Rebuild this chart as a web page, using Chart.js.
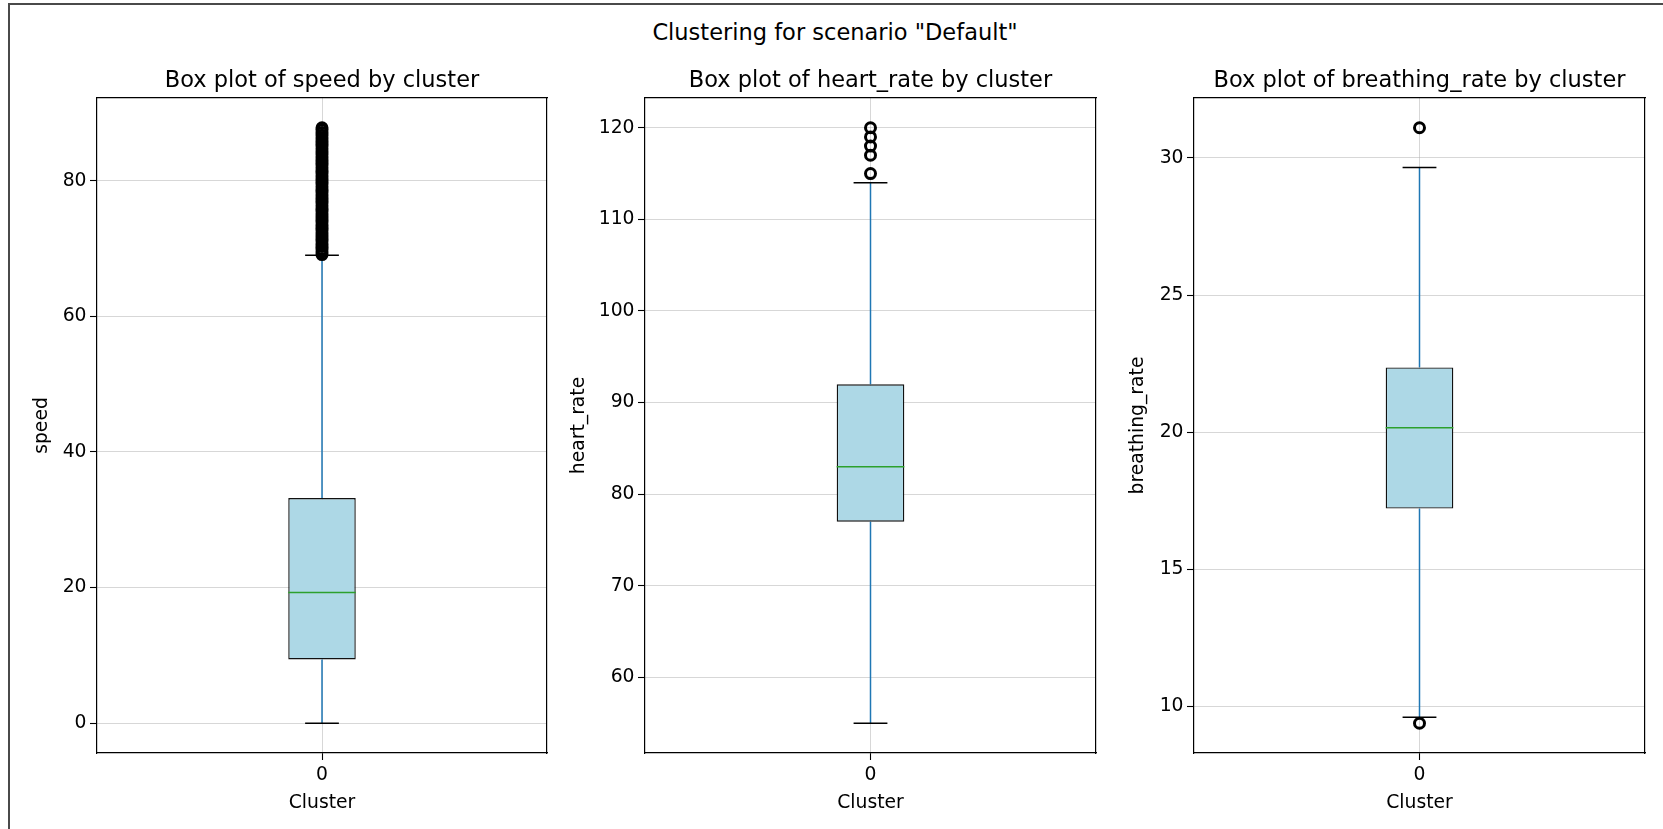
<!DOCTYPE html>
<html>
<head>
<meta charset="utf-8">
<title>Clustering for scenario "Default"</title>
<script src="https://cdn.jsdelivr.net/npm/chart.js@4.4.1/dist/chart.umd.min.js"></script>
<style>
  html, body { margin: 0; padding: 0; background: #fff; overflow: hidden; }
  #fig { position: relative; width: 1663px; height: 829px; overflow: hidden; }
  #frame { position: absolute; left: 8px; top: 3px; width: 1700px; height: 900px; border: 2px solid #4a4a4a; }
  #fig canvas { position: absolute; left: 0; top: 0; }
  #suptitle { position: absolute; left: 0; top: 19px; width: 1670px; text-align: center;
              font-family: 'DejaVu Sans', sans-serif; font-size: 22.5px; line-height: 26px; color: #000; }
</style>
</head>
<body>
<div id="fig">
  <div id="frame"></div>
  <div id="suptitle">Clustering for scenario "Default"</div>
  <canvas id="chart-speed" width="1663" height="829"></canvas>
  <canvas id="chart-heart" width="1663" height="829"></canvas>
  <canvas id="chart-breath" width="1663" height="829"></canvas>
</div>
<script>
const clusters = ['0'];

// [lower whisker, Q1, median, Q3, upper whisker]
const speedBox = [0, 9.4, 19.26, 33.2, 69.0];
const heartBox = [55, 77, 83, 92, 114];
const breathBox = [9.6, 17.21, 20.16, 22.36, 29.65];

// fliers (speed has a dense run of them above the whisker)
const speedOutliers = [
	69.1, 69.5, 69.9, 70.3, 70.7, 71.1, 71.5, 71.9, 72.3, 72.7, 73.1, 73.5,
	73.9, 74.3, 74.7, 75.1, 75.5, 75.9, 76.3, 76.7, 77.1, 77.5, 77.9, 78.3,
	78.7, 79.1, 79.5, 79.9, 80.3, 80.7, 81.1, 81.5, 81.9, 82.3, 82.7, 83.1,
	83.5, 83.9, 84.3, 84.7, 85.1, 85.5, 85.9, 86.3, 86.7, 87.1, 87.5, 87.8
];
const heartOutliers = [115, 117, 118, 119, 120];
const breathOutliers = [9.38, 31.1];

const speedTicks = [0, 20, 40, 60, 80];
const heartTicks = [60, 70, 80, 90, 100, 110, 120];
const breathTicks = [10, 15, 20, 25, 30];

Chart.defaults.font.family = "'DejaVu Sans', sans-serif";
Chart.defaults.color = '#000';

const BOX_W = 0.15;
const W = 1663, H = 829;
const PLOT_TOP = 98, PLOT_BOTTOM = 753;
const LABEL_SIZE = 18.75, TITLE_SIZE = 22.5;
const X_AXIS_H = 803 - PLOT_BOTTOM + LABEL_SIZE * 0.6;
const TOP_AXIS_H = PLOT_TOP - 81.5 + TITLE_SIZE * 0.6;
const TICK_LEN = 7;

const panels = [
	{ canvas: 'chart-speed', name: 'speed', box: speedBox, out: speedOutliers, ticks: speedTicks, left: 97, right: 547, labelX: 42.4 },
	{ canvas: 'chart-heart', name: 'heart_rate', box: heartBox, out: heartOutliers, ticks: heartTicks, left: 645, right: 1096, labelX: 579 },
	{ canvas: 'chart-breath', name: 'breathing_rate', box: breathBox, out: breathOutliers, ticks: breathTicks, left: 1194, right: 1645, labelX: 1138 },
];

function makeChart(p) {
	const [lo, q1, med, q3, hi] = p.box;
	const all = p.box.concat(p.out);
	const dmin = Math.min(...all), dmax = Math.max(...all);
	const margin = (dmax - dmin) * 0.05;
	const padLeft = p.labelX - LABEL_SIZE * 0.6;

	const line = (pts, color, order) => ({
		type: 'line',
		data: pts,
		borderColor: color,
		borderWidth: 1.5,
		pointRadius: 0,
		pointHoverRadius: 0,
		fill: false,
		order: order
	});

	const datasets = [
		{
			type: 'bar',
			data: [{ x: 0, y: [q1, q3] }],
			backgroundColor: '#add8e6',
			borderColor: '#111',
			borderWidth: 1.4,
			borderSkipped: false,
			barPercentage: BOX_W,
			categoryPercentage: 1,
			order: 5
		},
		line([{ x: 0, y: lo }, { x: 0, y: q1 }], '#1f77b4', 4),
		line([{ x: 0, y: q3 }, { x: 0, y: hi }], '#1f77b4', 4),
		line([{ x: -BOX_W / 4, y: lo }, { x: BOX_W / 4, y: lo }], '#000', 3),
		line([{ x: -BOX_W / 4, y: hi }, { x: BOX_W / 4, y: hi }], '#000', 3),
		line([{ x: -BOX_W / 2, y: med }, { x: BOX_W / 2, y: med }], '#2ca02c', 2),
		{
			type: 'scatter',
			data: p.out.map(v => ({ x: 0, y: v })),
			pointStyle: 'circle',
			pointRadius: 5,
			pointBorderWidth: 3,
			pointBorderColor: '#000',
			pointBackgroundColor: 'rgba(0,0,0,0)',
			order: 1
		}
	];

	const gridColor = 'rgba(176,176,176,0.5)';

	return new Chart(document.getElementById(p.canvas), {
		type: 'bar',
		data: { datasets: datasets },
		options: {
			responsive: false,
			animation: false,
			events: [],
			devicePixelRatio: 1,
			layout: {
				padding: { left: padLeft, right: W - p.right, top: PLOT_TOP - TOP_AXIS_H, bottom: H - PLOT_BOTTOM - X_AXIS_H }
			},
			plugins: {
				legend: { display: false },
				tooltip: { enabled: false }
			},
			scales: {
				x: {
					type: 'linear',
					position: 'bottom',
					min: -0.5,
					max: 0.5,
					offset: false,
					afterBuildTicks: axis => { axis.ticks = clusters.map((c, i) => ({ value: i })); },
					afterFit: axis => { axis.height = X_AXIS_H; },
					ticks: {
						callback: v => clusters[v],
						font: { size: LABEL_SIZE },
						padding: 3.75,
						maxRotation: 0
					},
					grid: { offset: false, color: gridColor, lineWidth: 1, tickLength: TICK_LEN, tickColor: '#000', tickWidth: 1.1 },
					border: { color: '#000', width: 1.2 },
					title: { display: true, text: 'Cluster', font: { size: LABEL_SIZE }, padding: 0 }
				},
				x2: {
					type: 'linear',
					position: 'top',
					min: -0.5,
					max: 0.5,
					offset: false,
					afterFit: axis => { axis.height = TOP_AXIS_H; },
					ticks: { display: false },
					grid: { display: false, drawTicks: false },
					border: { color: '#000', width: 1.2 },
					title: { display: true, text: 'Box plot of ' + p.name + ' by cluster', font: { size: TITLE_SIZE }, padding: 0 }
				},
				y: {
					type: 'linear',
					position: 'left',
					min: dmin - margin,
					max: dmax + margin,
					afterBuildTicks: axis => { axis.ticks = p.ticks.map(v => ({ value: v })); },
					afterFit: axis => { axis.width = p.left - padLeft; },
					ticks: {
						callback: v => String(v),
						font: { size: LABEL_SIZE },
						padding: 3.5
					},
					grid: { color: gridColor, lineWidth: 1, tickLength: TICK_LEN, tickColor: '#000', tickWidth: 1.1 },
					border: { color: '#000', width: 1.2 },
					title: { display: true, text: p.name, font: { size: LABEL_SIZE }, padding: 0 }
				},
				y2: {
					type: 'linear',
					position: 'right',
					afterFit: axis => { axis.width = 0; },
					ticks: { display: false },
					grid: { display: false, drawTicks: false },
					border: { color: '#000', width: 1.2 }
				}
			}
		}
	});
}

document.addEventListener('DOMContentLoaded', () => {
	panels.forEach(makeChart);
});
</script>
</body>
</html>
